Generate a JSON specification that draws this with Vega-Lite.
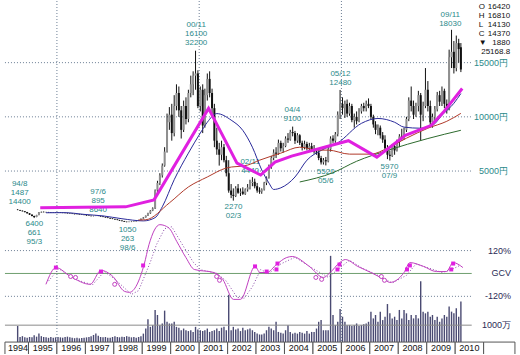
{
"$schema":"https://vega.github.io/schema/vega-lite/v6.json",
"width":520,"height":355,"autosize":{"type":"fit","contains":"padding"},"padding":0,"background":"white",
"config":{"view":{"stroke":null},"text":{"font":"Liberation Sans"}},
"datasets":{
"m":[
{"d":"1994-08-15","o":1430,"h":1487,"l":1390,"c":1400,"v":950},
{"d":"1994-09-15","o":1400,"h":1420,"l":1320,"c":1340,"v":300},
{"d":"1994-10-15","o":1340,"h":1360,"l":1270,"c":1290,"v":350},
{"d":"1994-11-15","o":1290,"h":1300,"l":1190,"c":1210,"v":280},
{"d":"1994-12-15","o":1210,"h":1230,"l":1080,"c":1100,"v":250},
{"d":"1995-01-15","o":1100,"h":1120,"l":950,"c":980,"v":300},
{"d":"1995-02-15","o":980,"h":1000,"l":820,"c":850,"v":280},
{"d":"1995-03-15","o":850,"h":880,"l":661,"c":760,"v":400},
{"d":"1995-04-15","o":760,"h":960,"l":740,"c":940,"v":320},
{"d":"1995-05-15","o":940,"h":1220,"l":920,"c":1180,"v":500},
{"d":"1995-06-15","o":1180,"h":1260,"l":1150,"c":1230,"v":350},
{"d":"1995-07-15","o":1230,"h":1270,"l":1180,"c":1210,"v":300},
{"d":"1995-08-15","o":1210,"h":1240,"l":1170,"c":1200,"v":280},
{"d":"1995-09-15","o":1200,"h":1230,"l":1160,"c":1190,"v":250},
{"d":"1995-10-15","o":1190,"h":1220,"l":1150,"c":1170,"v":300},
{"d":"1995-11-15","o":1170,"h":1200,"l":1140,"c":1160,"v":260},
{"d":"1995-12-15","o":1160,"h":1210,"l":1140,"c":1180,"v":280},
{"d":"1996-01-15","o":1180,"h":1220,"l":1150,"c":1170,"v":300},
{"d":"1996-02-15","o":1170,"h":1190,"l":1130,"c":1150,"v":280},
{"d":"1996-03-15","o":1150,"h":1180,"l":1110,"c":1140,"v":260},
{"d":"1996-04-15","o":1140,"h":1170,"l":1100,"c":1120,"v":300},
{"d":"1996-05-15","o":1120,"h":1150,"l":1080,"c":1100,"v":320},
{"d":"1996-06-15","o":1100,"h":1130,"l":1060,"c":1080,"v":280},
{"d":"1996-07-15","o":1080,"h":1100,"l":1030,"c":1050,"v":250},
{"d":"1996-08-15","o":1050,"h":1080,"l":1000,"c":1020,"v":230},
{"d":"1996-09-15","o":1020,"h":1060,"l":990,"c":1040,"v":250},
{"d":"1996-10-15","o":1040,"h":1060,"l":980,"c":1000,"v":220},
{"d":"1996-11-15","o":1000,"h":1020,"l":950,"c":970,"v":240},
{"d":"1996-12-15","o":970,"h":990,"l":920,"c":940,"v":260},
{"d":"1997-01-15","o":940,"h":960,"l":880,"c":900,"v":280},
{"d":"1997-02-15","o":900,"h":920,"l":850,"c":870,"v":300},
{"d":"1997-03-15","o":870,"h":890,"l":820,"c":840,"v":350},
{"d":"1997-04-15","o":840,"h":880,"l":820,"c":860,"v":420},
{"d":"1997-05-15","o":860,"h":890,"l":840,"c":870,"v":500},
{"d":"1997-06-15","o":870,"h":895,"l":830,"c":850,"v":380},
{"d":"1997-07-15","o":850,"h":870,"l":790,"c":810,"v":300},
{"d":"1997-08-15","o":810,"h":830,"l":740,"c":760,"v":280},
{"d":"1997-09-15","o":760,"h":780,"l":700,"c":720,"v":300},
{"d":"1997-10-15","o":720,"h":740,"l":650,"c":670,"v":260},
{"d":"1997-11-15","o":670,"h":690,"l":590,"c":620,"v":250},
{"d":"1997-12-15","o":620,"h":640,"l":560,"c":580,"v":300},
{"d":"1998-01-15","o":580,"h":600,"l":510,"c":530,"v":350},
{"d":"1998-02-15","o":530,"h":550,"l":460,"c":480,"v":300},
{"d":"1998-03-15","o":480,"h":500,"l":410,"c":430,"v":280},
{"d":"1998-04-15","o":430,"h":450,"l":360,"c":380,"v":320},
{"d":"1998-05-15","o":380,"h":400,"l":300,"c":320,"v":300},
{"d":"1998-06-15","o":320,"h":340,"l":263,"c":300,"v":350},
{"d":"1998-07-15","o":300,"h":340,"l":280,"c":320,"v":320},
{"d":"1998-08-15","o":320,"h":350,"l":290,"c":310,"v":280},
{"d":"1998-09-15","o":310,"h":360,"l":300,"c":350,"v":300},
{"d":"1998-10-15","o":350,"h":420,"l":340,"c":400,"v":260},
{"d":"1998-11-15","o":400,"h":500,"l":390,"c":480,"v":300},
{"d":"1998-12-15","o":480,"h":620,"l":470,"c":600,"v":350},
{"d":"1999-01-15","o":600,"h":760,"l":580,"c":720,"v":500},
{"d":"1999-02-15","o":720,"h":900,"l":700,"c":880,"v":800},
{"d":"1999-03-15","o":880,"h":1150,"l":850,"c":1100,"v":1350},
{"d":"1999-04-15","o":1100,"h":1400,"l":1050,"c":1350,"v":900},
{"d":"1999-05-15","o":1350,"h":1650,"l":1300,"c":1550,"v":1000},
{"d":"1999-06-15","o":1550,"h":3300,"l":1500,"c":3200,"v":1900},
{"d":"1999-07-15","o":3200,"h":4100,"l":3000,"c":3900,"v":1600},
{"d":"1999-08-15","o":3900,"h":4800,"l":3700,"c":4600,"v":1000},
{"d":"1999-09-15","o":4600,"h":5700,"l":4400,"c":5500,"v":1100},
{"d":"1999-10-15","o":5500,"h":7200,"l":5400,"c":6800,"v":1860},
{"d":"1999-11-15","o":6800,"h":10300,"l":6700,"c":9500,"v":1200},
{"d":"1999-12-15","o":9500,"h":10900,"l":8800,"c":10200,"v":1100},
{"d":"2000-01-15","o":10200,"h":11200,"l":7800,"c":8500,"v":1100},
{"d":"2000-02-15","o":8500,"h":12000,"l":8200,"c":11000,"v":1200},
{"d":"2000-03-15","o":11000,"h":13000,"l":10600,"c":12200,"v":900},
{"d":"2000-04-15","o":12200,"h":12800,"l":10000,"c":10600,"v":850},
{"d":"2000-05-15","o":10600,"h":11000,"l":8000,"c":8800,"v":700},
{"d":"2000-06-15","o":8800,"h":11500,"l":8600,"c":11000,"v":800},
{"d":"2000-07-15","o":11000,"h":11800,"l":9300,"c":9800,"v":700},
{"d":"2000-08-15","o":9800,"h":12500,"l":9500,"c":12200,"v":650},
{"d":"2000-09-15","o":12200,"h":13800,"l":11800,"c":13000,"v":700},
{"d":"2000-10-15","o":13000,"h":14200,"l":12000,"c":13800,"v":600},
{"d":"2000-11-15","o":13800,"h":16100,"l":12500,"c":14000,"v":900},
{"d":"2000-12-15","o":14000,"h":14300,"l":10800,"c":11000,"v":750},
{"d":"2001-01-15","o":11000,"h":12800,"l":10500,"c":12500,"v":700},
{"d":"2001-02-15","o":12500,"h":13000,"l":8500,"c":9200,"v":650},
{"d":"2001-03-15","o":9200,"h":12600,"l":9000,"c":12000,"v":700},
{"d":"2001-04-15","o":12000,"h":14000,"l":11500,"c":13500,"v":800},
{"d":"2001-05-15","o":13500,"h":14200,"l":11800,"c":12200,"v":600},
{"d":"2001-06-15","o":12200,"h":12600,"l":10200,"c":10800,"v":650},
{"d":"2001-07-15","o":10800,"h":11200,"l":7200,"c":7800,"v":700},
{"d":"2001-08-15","o":7800,"h":9000,"l":6500,"c":7000,"v":800},
{"d":"2001-09-15","o":7000,"h":7600,"l":5500,"c":6500,"v":650},
{"d":"2001-10-15","o":6500,"h":7800,"l":6000,"c":7200,"v":850},
{"d":"2001-11-15","o":7200,"h":7500,"l":5800,"c":6000,"v":900},
{"d":"2001-12-15","o":6000,"h":6400,"l":4500,"c":4800,"v":700},
{"d":"2002-01-15","o":4800,"h":6000,"l":3000,"c":3200,"v":2800},
{"d":"2002-02-15","o":3200,"h":3800,"l":2500,"c":2800,"v":700},
{"d":"2002-03-15","o":2800,"h":3400,"l":2270,"c":2700,"v":900},
{"d":"2002-04-15","o":2700,"h":3600,"l":2600,"c":3400,"v":750},
{"d":"2002-05-15","o":3400,"h":3800,"l":2900,"c":3000,"v":800},
{"d":"2002-06-15","o":3000,"h":3400,"l":2700,"c":3100,"v":650},
{"d":"2002-07-15","o":3100,"h":3500,"l":2800,"c":2900,"v":850},
{"d":"2002-08-15","o":2900,"h":3400,"l":2800,"c":3300,"v":700},
{"d":"2002-09-15","o":3300,"h":3800,"l":3100,"c":3500,"v":750},
{"d":"2002-10-15","o":3500,"h":4200,"l":3300,"c":3900,"v":800},
{"d":"2002-11-15","o":3900,"h":4440,"l":3600,"c":4000,"v":700},
{"d":"2002-12-15","o":4000,"h":4300,"l":3400,"c":3600,"v":600},
{"d":"2003-01-15","o":3600,"h":3900,"l":3000,"c":3200,"v":500},
{"d":"2003-02-15","o":3200,"h":3500,"l":2900,"c":3100,"v":450},
{"d":"2003-03-15","o":3100,"h":3400,"l":2900,"c":3300,"v":450},
{"d":"2003-04-15","o":3300,"h":4000,"l":3200,"c":3900,"v":500},
{"d":"2003-05-15","o":3900,"h":4500,"l":3700,"c":4400,"v":700},
{"d":"2003-06-15","o":4400,"h":5600,"l":4300,"c":5400,"v":900},
{"d":"2003-07-15","o":5400,"h":6400,"l":5200,"c":6200,"v":800},
{"d":"2003-08-15","o":6200,"h":7000,"l":6000,"c":6700,"v":700},
{"d":"2003-09-15","o":6700,"h":7200,"l":6200,"c":6600,"v":1200},
{"d":"2003-10-15","o":6600,"h":7900,"l":6500,"c":7600,"v":600},
{"d":"2003-11-15","o":7600,"h":7800,"l":6800,"c":7100,"v":550},
{"d":"2003-12-15","o":7100,"h":7600,"l":6700,"c":7300,"v":500},
{"d":"2004-01-15","o":7300,"h":8200,"l":7200,"c":8000,"v":700},
{"d":"2004-02-15","o":8000,"h":8500,"l":7600,"c":7900,"v":1000},
{"d":"2004-03-15","o":7900,"h":8800,"l":7800,"c":8600,"v":600},
{"d":"2004-04-15","o":8600,"h":9100,"l":8200,"c":8500,"v":500},
{"d":"2004-05-15","o":8500,"h":8700,"l":7500,"c":7800,"v":550},
{"d":"2004-06-15","o":7800,"h":8500,"l":7600,"c":8300,"v":500},
{"d":"2004-07-15","o":8300,"h":8400,"l":7400,"c":7600,"v":600},
{"d":"2004-08-15","o":7600,"h":7800,"l":6900,"c":7200,"v":550},
{"d":"2004-09-15","o":7200,"h":7800,"l":7000,"c":7500,"v":500},
{"d":"2004-10-15","o":7500,"h":7700,"l":6900,"c":7100,"v":650},
{"d":"2004-11-15","o":7100,"h":7600,"l":6800,"c":7300,"v":500},
{"d":"2004-12-15","o":7300,"h":7600,"l":6900,"c":7000,"v":600},
{"d":"2005-01-15","o":7000,"h":7400,"l":6600,"c":6800,"v":600},
{"d":"2005-02-15","o":6800,"h":7100,"l":6500,"c":6700,"v":800},
{"d":"2005-03-15","o":6700,"h":6900,"l":6000,"c":6200,"v":1200},
{"d":"2005-04-15","o":6200,"h":6400,"l":5600,"c":5800,"v":1300},
{"d":"2005-05-15","o":5800,"h":6200,"l":5600,"c":6000,"v":700},
{"d":"2005-06-15","o":6000,"h":6300,"l":5520,"c":5900,"v":700},
{"d":"2005-07-15","o":5900,"h":7200,"l":5800,"c":7000,"v":700},
{"d":"2005-08-15","o":7000,"h":8200,"l":6800,"c":8000,"v":5100},
{"d":"2005-09-15","o":8000,"h":8300,"l":7600,"c":7800,"v":1600},
{"d":"2005-10-15","o":7800,"h":8600,"l":7600,"c":8400,"v":1000},
{"d":"2005-11-15","o":8400,"h":10500,"l":8200,"c":10200,"v":1200},
{"d":"2005-12-15","o":10200,"h":12480,"l":9800,"c":11200,"v":1950},
{"d":"2006-01-15","o":11200,"h":11800,"l":10200,"c":10800,"v":1500},
{"d":"2006-02-15","o":10800,"h":11500,"l":9900,"c":11200,"v":1200},
{"d":"2006-03-15","o":11200,"h":11600,"l":10000,"c":10300,"v":1000},
{"d":"2006-04-15","o":10300,"h":11300,"l":10100,"c":11000,"v":1000},
{"d":"2006-05-15","o":11000,"h":11200,"l":9500,"c":9700,"v":950},
{"d":"2006-06-15","o":9700,"h":10300,"l":9000,"c":10000,"v":1000},
{"d":"2006-07-15","o":10000,"h":10500,"l":9300,"c":9600,"v":1100},
{"d":"2006-08-15","o":9600,"h":10800,"l":9500,"c":10500,"v":950},
{"d":"2006-09-15","o":10500,"h":11200,"l":10300,"c":11000,"v":1000},
{"d":"2006-10-15","o":11000,"h":11300,"l":10500,"c":10800,"v":1050},
{"d":"2006-11-15","o":10800,"h":11500,"l":10500,"c":11200,"v":1100},
{"d":"2006-12-15","o":11200,"h":11700,"l":10800,"c":11000,"v":1200},
{"d":"2007-01-15","o":11000,"h":11200,"l":9800,"c":10000,"v":1800},
{"d":"2007-02-15","o":10000,"h":10200,"l":9000,"c":9300,"v":1400},
{"d":"2007-03-15","o":9300,"h":9600,"l":8400,"c":8800,"v":1600},
{"d":"2007-04-15","o":8800,"h":9300,"l":8300,"c":9000,"v":1200},
{"d":"2007-05-15","o":9000,"h":9200,"l":8000,"c":8300,"v":1800},
{"d":"2007-06-15","o":8300,"h":8600,"l":7600,"c":7900,"v":1300},
{"d":"2007-07-15","o":7900,"h":8300,"l":6800,"c":7100,"v":1500},
{"d":"2007-08-15","o":7100,"h":7400,"l":6100,"c":6500,"v":2250},
{"d":"2007-09-15","o":6500,"h":6900,"l":5970,"c":6400,"v":1700},
{"d":"2007-10-15","o":6400,"h":7500,"l":6300,"c":7300,"v":1400},
{"d":"2007-11-15","o":7300,"h":7600,"l":6500,"c":6900,"v":1500},
{"d":"2007-12-15","o":6900,"h":7900,"l":6800,"c":7700,"v":1300},
{"d":"2008-01-15","o":7700,"h":8400,"l":7200,"c":8200,"v":1900},
{"d":"2008-02-15","o":8200,"h":8900,"l":7800,"c":8000,"v":1400},
{"d":"2008-03-15","o":8000,"h":9000,"l":7900,"c":8800,"v":1900},
{"d":"2008-04-15","o":8800,"h":10000,"l":8600,"c":9800,"v":1700},
{"d":"2008-05-15","o":9800,"h":11800,"l":9600,"c":11500,"v":1300},
{"d":"2008-06-15","o":11500,"h":12800,"l":10500,"c":11000,"v":1600},
{"d":"2008-07-15","o":11000,"h":11500,"l":9800,"c":10200,"v":1400},
{"d":"2008-08-15","o":10200,"h":11300,"l":10000,"c":11000,"v":1600},
{"d":"2008-09-15","o":11000,"h":12400,"l":10500,"c":12000,"v":1400},
{"d":"2008-10-15","o":12000,"h":12200,"l":7800,"c":10200,"v":3600},
{"d":"2008-11-15","o":10200,"h":11400,"l":9600,"c":11000,"v":1800},
{"d":"2008-12-15","o":11000,"h":14500,"l":10800,"c":12500,"v":1700},
{"d":"2009-01-15","o":12500,"h":13300,"l":10500,"c":11000,"v":1800},
{"d":"2009-02-15","o":11000,"h":11500,"l":9200,"c":9500,"v":1500},
{"d":"2009-03-15","o":9500,"h":10300,"l":9000,"c":10000,"v":1600},
{"d":"2009-04-15","o":10000,"h":11000,"l":9700,"c":10700,"v":1300},
{"d":"2009-05-15","o":10700,"h":12300,"l":10500,"c":12000,"v":1500},
{"d":"2009-06-15","o":12000,"h":12400,"l":11000,"c":11400,"v":1200},
{"d":"2009-07-15","o":11400,"h":12800,"l":11000,"c":12400,"v":1400},
{"d":"2009-08-15","o":12400,"h":12600,"l":10800,"c":11200,"v":1600},
{"d":"2009-09-15","o":11200,"h":11600,"l":10300,"c":10700,"v":1500},
{"d":"2009-10-15","o":10700,"h":16200,"l":10600,"c":15500,"v":2100},
{"d":"2009-11-15","o":15500,"h":18030,"l":14500,"c":16000,"v":1800},
{"d":"2009-12-15","o":16000,"h":17000,"l":14000,"c":14500,"v":1700},
{"d":"2010-01-15","o":14500,"h":17500,"l":14200,"c":16800,"v":2000},
{"d":"2010-02-15","o":16800,"h":17200,"l":15000,"c":16250,"v":1500},
{"d":"2010-03-15","o":16420,"h":16810,"l":14130,"c":14370,"v":2400}
],
"blue":[
{"d":"1995-08-15","p":1150},{"d":"1996-04-15","p":1160},{"d":"1996-12-15","p":1000},{"d":"1997-08-15","p":860},{"d":"1998-04-15","p":600},{"d":"1999-01-15","p":400},{"d":"1999-06-15","p":700},{"d":"1999-09-15","p":1700},{"d":"2000-02-15","p":4200},{"d":"2000-08-15","p":6650},{"d":"2001-01-15","p":8500},{"d":"2001-04-15","p":9500},{"d":"2001-08-15","p":10300},{"d":"2002-02-15","p":9700},{"d":"2002-07-15","p":8750},{"d":"2002-11-15","p":7200},{"d":"2003-03-15","p":5100},{"d":"2003-06-15","p":3900},{"d":"2003-08-15","p":3300},{"d":"2003-11-15","p":3450},{"d":"2004-05-15","p":4450},{"d":"2004-10-15","p":6000},{"d":"2005-04-15","p":6900},{"d":"2005-11-15","p":7600},{"d":"2006-09-15","p":9400},{"d":"2007-04-15","p":9850},{"d":"2007-11-15","p":9500},{"d":"2008-03-15","p":9050},{"d":"2008-10-15","p":8950},{"d":"2009-03-15","p":9200},{"d":"2009-07-15","p":10150},{"d":"2009-12-15","p":11250},{"d":"2010-03-15","p":12150}
],
"red":[
{"d":"1998-11-15","p":480},{"d":"1999-02-15","p":505},{"d":"1999-12-15","p":2060},{"d":"2000-08-15","p":3530},{"d":"2001-04-15","p":4450},{"d":"2001-12-15","p":5280},{"d":"2002-09-15","p":5550},{"d":"2003-02-15","p":6000},{"d":"2003-11-15","p":6650},{"d":"2004-07-15","p":7200},{"d":"2005-03-15","p":6930},{"d":"2005-07-15","p":6930},{"d":"2006-04-15","p":6560},{"d":"2007-01-15","p":6560},{"d":"2007-08-15","p":7110},{"d":"2008-04-15","p":8030},{"d":"2009-01-15","p":8950},{"d":"2009-09-15","p":9590},{"d":"2010-03-15","p":10320}
],
"green":[
{"d":"2004-07-15","p":3990},{"d":"2005-09-15","p":4850},{"d":"2006-07-15","p":5900},{"d":"2007-08-15","p":6900},{"d":"2009-01-15","p":8000},{"d":"2010-03-15","p":8760}
],
"mag":[
{"d":"1995-06-01","p":1606},{"d":"1998-06-01","p":1697},{"d":"1999-06-01","p":2339},{"d":"2001-05-01","p":10780},{"d":"2002-05-01","p":5734},{"d":"2003-03-01","p":4633},{"d":"2003-09-01","p":5830},{"d":"2004-04-01","p":6380},{"d":"2006-04-01","p":7800},{"d":"2007-04-01","p":6284},{"d":"2008-04-01","p":8303},{"d":"2009-03-01","p":9220},{"d":"2009-08-01","p":10413},{"d":"2010-04-01","p":12615}
],
"gcv":[
{"d":"1995-08-13","g":-57},{"d":"1995-12-20","g":31},{"d":"1996-06-24","g":-16},{"d":"1997-03-03","g":-57},{"d":"1997-07-20","g":16},{"d":"1997-12-20","g":-16},{"d":"1998-05-18","g":-94},{"d":"1998-07-20","g":-99},{"d":"1999-01-25","g":47},{"d":"1999-03-28","g":151},{"d":"1999-08-15","g":256},{"d":"1999-12-05","g":240},{"d":"2000-03-20","g":167},{"d":"2000-07-15","g":83},{"d":"2000-10-30","g":21},{"d":"2001-07-08","g":5},{"d":"2001-10-30","g":-31},{"d":"2002-03-17","g":-136},{"d":"2002-06-15","g":-136},{"d":"2002-12-20","g":37},{"d":"2003-02-20","g":5},{"d":"2003-05-20","g":5},{"d":"2003-09-20","g":47},{"d":"2004-01-25","g":83},{"d":"2004-04-10","g":89},{"d":"2004-11-15","g":37},{"d":"2005-05-15","g":-21},{"d":"2005-08-10","g":5},{"d":"2005-12-10","g":57},{"d":"2006-02-20","g":73},{"d":"2006-07-30","g":37},{"d":"2007-01-15","g":5},{"d":"2007-07-05","g":-31},{"d":"2007-09-15","g":-47},{"d":"2008-03-15","g":5},{"d":"2008-05-30","g":57},{"d":"2008-11-20","g":37},{"d":"2009-05-05","g":10},{"d":"2009-09-10","g":10},{"d":"2009-12-05","g":57},{"d":"2010-04-10","g":31}
],
"gcvd":[
{"d":"1995-09-15","g":-40},{"d":"1996-01-25","g":25},{"d":"1996-08-15","g":-30},{"d":"1997-04-01","g":-60},{"d":"1997-09-01","g":10},{"d":"1998-01-15","g":-30},{"d":"1998-08-15","g":-110},{"d":"1998-11-15","g":-90},{"d":"1999-04-15","g":60},{"d":"1999-07-01","g":150},{"d":"1999-10-15","g":235},{"d":"2000-01-15","g":245},{"d":"2000-06-01","g":150},{"d":"2000-10-15","g":60},{"d":"2001-01-15","g":20},{"d":"2001-08-15","g":0},{"d":"2001-12-15","g":-40},{"d":"2002-05-01","g":-125},{"d":"2002-08-01","g":-130},{"d":"2002-11-15","g":-70},{"d":"2003-03-01","g":20},{"d":"2003-06-15","g":0},{"d":"2003-11-15","g":50},{"d":"2004-05-15","g":85},{"d":"2004-12-15","g":30},{"d":"2005-07-15","g":-20},{"d":"2005-11-15","g":20},{"d":"2006-04-15","g":70},{"d":"2006-09-15","g":30},{"d":"2007-04-15","g":-10},{"d":"2007-10-15","g":-50},{"d":"2008-04-15","g":-10},{"d":"2008-08-15","g":50},{"d":"2009-01-15","g":30},{"d":"2009-07-15","g":5},{"d":"2009-11-15","g":20},{"d":"2010-03-15","g":45}
],
"buy":[
{"d":"1995-12-19","g":31},{"d":"1997-07-20","g":10},{"d":"1999-01-12","g":42},{"d":"2002-12-19","g":37},{"d":"2003-05-17","g":10},{"d":"2003-09-20","g":21},{"d":"2003-10-03","g":52},{"d":"2005-11-11","g":21},{"d":"2005-12-07","g":47},{"d":"2008-04-22","g":21},{"d":"2008-05-29","g":42},{"d":"2009-11-11","g":21},{"d":"2009-12-06","g":52}
],
"sell":[
{"d":"1996-06-25","g":-16},{"d":"1996-08-27","g":-21},{"d":"1998-01-12","g":-57},{"d":"2001-08-13","g":-16},{"d":"2001-09-19","g":-36},{"d":"2005-02-07","g":-21},{"d":"2005-04-22","g":-31},{"d":"2007-05-29","g":-16},{"d":"2007-07-08","g":-36}
],
"ann":[
{"d":"1994-09-10","p":3808,"t":"94/8"},{"d":"1994-09-10","p":2982,"t":"1487"},{"d":"1994-09-10","p":2156,"t":"14400"},
{"d":"1995-03-17","p":138,"t":"6400"},{"d":"1995-03-17","p":-688,"t":"661"},{"d":"1995-03-17","p":-1514,"t":"95/3"},
{"d":"1997-06-13","p":3074,"t":"97/6"},{"d":"1997-06-13","p":2248,"t":"895"},{"d":"1997-06-13","p":1422,"t":"8640"},
{"d":"1998-06-26","p":-413,"t":"1050"},{"d":"1998-06-26","p":-1239,"t":"263"},{"d":"1998-06-26","p":-2065,"t":"98/6"},
{"d":"2000-11-23","p":18487,"t":"00/11"},{"d":"2000-11-23","p":17661,"t":"16100"},{"d":"2000-11-23","p":16835,"t":"32200"},
{"d":"2002-03-17","p":1697,"t":"2270"},{"d":"2002-03-17","p":871,"t":"02/3"},
{"d":"2002-10-17","p":5826,"t":"02/11"},{"d":"2002-10-17","p":5000,"t":"4440"},
{"d":"2004-04-11","p":10596,"t":"04/4"},{"d":"2004-04-11","p":9770,"t":"9100"},
{"d":"2005-06-13","p":4908,"t":"5520"},{"d":"2005-06-13","p":4082,"t":"05/6"},
{"d":"2005-12-19","p":13991,"t":"05/12"},{"d":"2005-12-19","p":13165,"t":"12480"},
{"d":"2007-09-10","p":5367,"t":"5970"},{"d":"2007-09-10","p":4541,"t":"07/9"},
{"d":"2009-10-30","p":19404,"t":"09/11"},{"d":"2009-10-30","p":18578,"t":"18030"}
],
"years":[
{"d":"1994-03-05","d2":"1995-01-01"},{"d":"1995-01-01","d2":"1996-01-01"},{"d":"1996-01-01","d2":"1997-01-01"},{"d":"1997-01-01","d2":"1998-01-01"},{"d":"1998-01-01","d2":"1999-01-01"},{"d":"1999-01-01","d2":"2000-01-01"},{"d":"2000-01-01","d2":"2001-01-01"},{"d":"2001-01-01","d2":"2002-01-01"},{"d":"2002-01-01","d2":"2003-01-01"},{"d":"2003-01-01","d2":"2004-01-01"},{"d":"2004-01-01","d2":"2005-01-01"},{"d":"2005-01-01","d2":"2006-01-01"},{"d":"2006-01-01","d2":"2007-01-01"},{"d":"2007-01-01","d2":"2008-01-01"},{"d":"2008-01-01","d2":"2009-01-01"},{"d":"2009-01-01","d2":"2010-01-01"},{"d":"2010-01-01","d2":"2011-01-01"},{"d":"2011-01-01","d2":"2012-02-07"}
],
"ylab":[
{"d":"1994-08-20","t":"1994"},{"d":"1995-07-02","t":"1995"},{"d":"1996-07-02","t":"1996"},{"d":"1997-07-02","t":"1997"},{"d":"1998-07-02","t":"1998"},{"d":"1999-07-02","t":"1999"},{"d":"2000-07-02","t":"2000"},{"d":"2001-07-02","t":"2001"},{"d":"2002-07-02","t":"2002"},{"d":"2003-07-02","t":"2003"},{"d":"2004-07-02","t":"2004"},{"d":"2005-07-02","t":"2005"},{"d":"2006-07-02","t":"2006"},{"d":"2007-07-02","t":"2007"},{"d":"2008-07-02","t":"2008"},{"d":"2009-07-02","t":"2009"},{"d":"2010-07-02","t":"2010"}
]
},
"encoding":{"x":{"field":"d","type":"temporal","axis":null,"scale":{"domain":[{"year":1994,"month":3,"date":5,"hours":12,"utc":true},{"year":2012,"month":2,"date":7,"hours":19,"utc":true}]}}},
"resolve":{"scale":{"y":"independent"}},
"layer":[
{"data":{"name":"m"},"mark":{"type":"bar","size":1.4,"color":"#4a4a72"},
 "encoding":{"y":{"field":"v","type":"quantitative","axis":null,"scale":{"domain":[-705.9,20176],"nice":false,"zero":false}},"y2":{"datum":0}}},
{"data":{"values":[{"d":"1994-03-05","d2":"2010-08-01","v":1000}]},"mark":{"type":"rule","color":"#8a8a8a","strokeWidth":1},
 "encoding":{"x2":{"field":"d2"},"y":{"field":"v","type":"quantitative","axis":null,"scale":{"domain":[-705.9,20176],"nice":false,"zero":false}}}},
{"data":{"values":[{"d":"1996-01-01"},{"d":"2001-01-01"},{"d":"2006-01-01"}]},"mark":{"type":"rule","color":"#6d7f95","strokeDash":[1,2],"strokeWidth":1},"encoding":{}},
{"data":{"values":[{"d":"1994-03-05","d2":"2010-08-01","g":120},{"d":"1994-03-05","d2":"2010-08-01","g":-120}]},"mark":{"type":"rule","color":"#6d7f95","strokeDash":[1,2],"strokeWidth":1},
 "encoding":{"x2":{"field":"d2"},"y":{"field":"g","type":"quantitative","axis":null,"scale":{"domain":[-422.6,1429.6],"nice":false,"zero":false}}}},
{"data":{"values":[{"d":"1994-03-05","d2":"2010-08-01","g":0}]},"mark":{"type":"rule","color":"#6f9f6f","strokeWidth":1},
 "encoding":{"x2":{"field":"d2"},"y":{"field":"g","type":"quantitative","axis":null,"scale":{"domain":[-422.6,1429.6],"nice":false,"zero":false}}}},
{"data":{"values":[{"d":"1994-03-05","d2":"2010-08-01","p":5000},{"d":"1994-03-05","d2":"2010-08-01","p":10000},{"d":"1994-03-05","d2":"2010-08-01","p":15000}]},"mark":{"type":"rule","color":"#6d7f95","strokeDash":[1,2],"strokeWidth":1},
 "encoding":{"x2":{"field":"d2"},"y":{"field":"p","type":"quantitative","axis":null,"scale":{"domain":[-11881,20688],"nice":false,"zero":false}}}},
{"data":{"name":"gcvd"},"mark":{"type":"line","color":"#8a4aa8","strokeDash":[1,2],"strokeWidth":1},
 "encoding":{"y":{"field":"g","type":"quantitative","axis":null,"scale":{"domain":[-422.6,1429.6],"nice":false,"zero":false}}}},
{"data":{"name":"gcv"},"mark":{"type":"line","color":"#c040c0","strokeWidth":1,"interpolate":"monotone"},
 "encoding":{"y":{"field":"g","type":"quantitative","axis":null,"scale":{"domain":[-422.6,1429.6],"nice":false,"zero":false}}}},
{"data":{"name":"buy"},"mark":{"type":"point","shape":"square","filled":true,"color":"#e020e0","size":16,"opacity":1},
 "encoding":{"y":{"field":"g","type":"quantitative","axis":null,"scale":{"domain":[-422.6,1429.6],"nice":false,"zero":false}}}},
{"data":{"name":"sell"},"mark":{"type":"point","shape":"circle","filled":false,"fill":"white","stroke":"#c040c0","strokeWidth":1,"size":16,"opacity":1},
 "encoding":{"y":{"field":"g","type":"quantitative","axis":null,"scale":{"domain":[-422.6,1429.6],"nice":false,"zero":false}}}},
{"data":{"name":"m"},"mark":{"type":"rule","color":"#111111","strokeWidth":1},
 "encoding":{"y":{"field":"l","type":"quantitative","axis":null,"scale":{"domain":[-11881,20688],"nice":false,"zero":false}},"y2":{"field":"h"}}},
{"data":{"name":"m"},"mark":{"type":"bar","size":2},
 "encoding":{"y":{"field":"o","type":"quantitative","axis":null,"scale":{"domain":[-11881,20688],"nice":false,"zero":false}},"y2":{"field":"c"},
 "color":{"condition":{"test":"datum.c < datum.o","value":"#111111"},"value":"#8f8f8f"}}},
{"data":{"name":"ann"},"mark":{"type":"text","color":"#2b8a8a","fontSize":8,"align":"center","baseline":"middle"},
 "encoding":{"y":{"field":"p","type":"quantitative","axis":null,"scale":{"domain":[-11881,20688],"nice":false,"zero":false}},"text":{"field":"t"}}},
{"data":{"name":"blue"},"mark":{"type":"line","color":"#2a2a9a","strokeWidth":1,"interpolate":"monotone"},
 "encoding":{"y":{"field":"p","type":"quantitative","axis":null,"scale":{"domain":[-11881,20688],"nice":false,"zero":false}}}},
{"data":{"name":"red"},"mark":{"type":"line","color":"#b03a2a","strokeWidth":1,"interpolate":"monotone"},
 "encoding":{"y":{"field":"p","type":"quantitative","axis":null,"scale":{"domain":[-11881,20688],"nice":false,"zero":false}}}},
{"data":{"name":"green"},"mark":{"type":"line","color":"#2e6b2e","strokeWidth":1,"interpolate":"monotone"},
 "encoding":{"y":{"field":"p","type":"quantitative","axis":null,"scale":{"domain":[-11881,20688],"nice":false,"zero":false}}}},
{"data":{"name":"mag"},"mark":{"type":"line","color":"#e020e0","strokeWidth":3},
 "encoding":{"y":{"field":"p","type":"quantitative","axis":null,"scale":{"domain":[-11881,20688],"nice":false,"zero":false}}}},
{"data":{"values":[{"d":"2011-11-11","p":15000,"t":"15000円"},{"d":"2011-11-11","p":10000,"t":"10000円"},{"d":"2011-11-11","p":5000,"t":"5000円"}]},
 "mark":{"type":"text","color":"#2b8a8a","fontSize":9,"align":"right","baseline":"middle"},
 "encoding":{"y":{"field":"p","type":"quantitative","axis":null,"scale":{"domain":[-11881,20688],"nice":false,"zero":false}},"text":{"field":"t"}}},
{"data":{"values":[{"d":"2011-12-19","g":120,"t":"120%"},{"d":"2011-12-19","g":0,"t":"GCV"},{"d":"2011-12-19","g":-120,"t":"-120%"}]},
 "mark":{"type":"text","color":"#2a2a55","fontSize":9,"align":"right","baseline":"middle"},
 "encoding":{"y":{"field":"g","type":"quantitative","axis":null,"scale":{"domain":[-422.6,1429.6],"nice":false,"zero":false}},"text":{"field":"t"}}},
{"data":{"values":[{"d":"2011-12-19","v":1000,"t":"1000万"}]},
 "mark":{"type":"text","color":"#2a2a55","fontSize":9,"align":"right","baseline":"middle"},
 "encoding":{"y":{"field":"v","type":"quantitative","axis":null,"scale":{"domain":[-705.9,20176],"nice":false,"zero":false}},"text":{"field":"t"}}},
{"data":{"values":[{"d":"2010-10-29","p":20138,"t":"O"},{"d":"2010-10-29","p":19312,"t":"H"},{"d":"2010-10-29","p":18486,"t":"L"},{"d":"2010-10-29","p":17660,"t":"C"},{"d":"2010-10-29","p":16834,"t":"▼"}]},
 "mark":{"type":"text","color":"#111111","fontSize":8,"align":"left","baseline":"middle"},
 "encoding":{"y":{"field":"p","type":"quantitative","axis":null,"scale":{"domain":[-11881,20688],"nice":false,"zero":false}},"text":{"field":"t"}}},
{"data":{"values":[{"d":"2011-12-07","p":20138,"t":"16420"},{"d":"2011-12-07","p":19312,"t":"16810"},{"d":"2011-12-07","p":18486,"t":"14130"},{"d":"2011-12-07","p":17660,"t":"14370"},{"d":"2011-12-07","p":16834,"t":"1880"},{"d":"2011-12-07","p":16008,"t":"25168.8"}]},
 "mark":{"type":"text","color":"#111111","fontSize":8,"align":"right","baseline":"middle"},
 "encoding":{"y":{"field":"p","type":"quantitative","axis":null,"scale":{"domain":[-11881,20688],"nice":false,"zero":false}},"text":{"field":"t"}}},
{"data":{"name":"years"},"mark":{"type":"rect","fill":"white","stroke":"#555555","strokeWidth":1,"clip":true},
 "encoding":{"x2":{"field":"d2"},"y":{"datum":0,"type":"quantitative","axis":null,"scale":{"domain":[-705.9,20176],"nice":false,"zero":false}},"y2":{"datum":-900}}},
{"data":{"name":"ylab"},"mark":{"type":"text","color":"#111111","fontSize":9,"align":"center","baseline":"middle"},
 "encoding":{"y":{"datum":-353,"type":"quantitative","axis":null,"scale":{"domain":[-705.9,20176],"nice":false,"zero":false}},"text":{"field":"t"}}}
]
}
